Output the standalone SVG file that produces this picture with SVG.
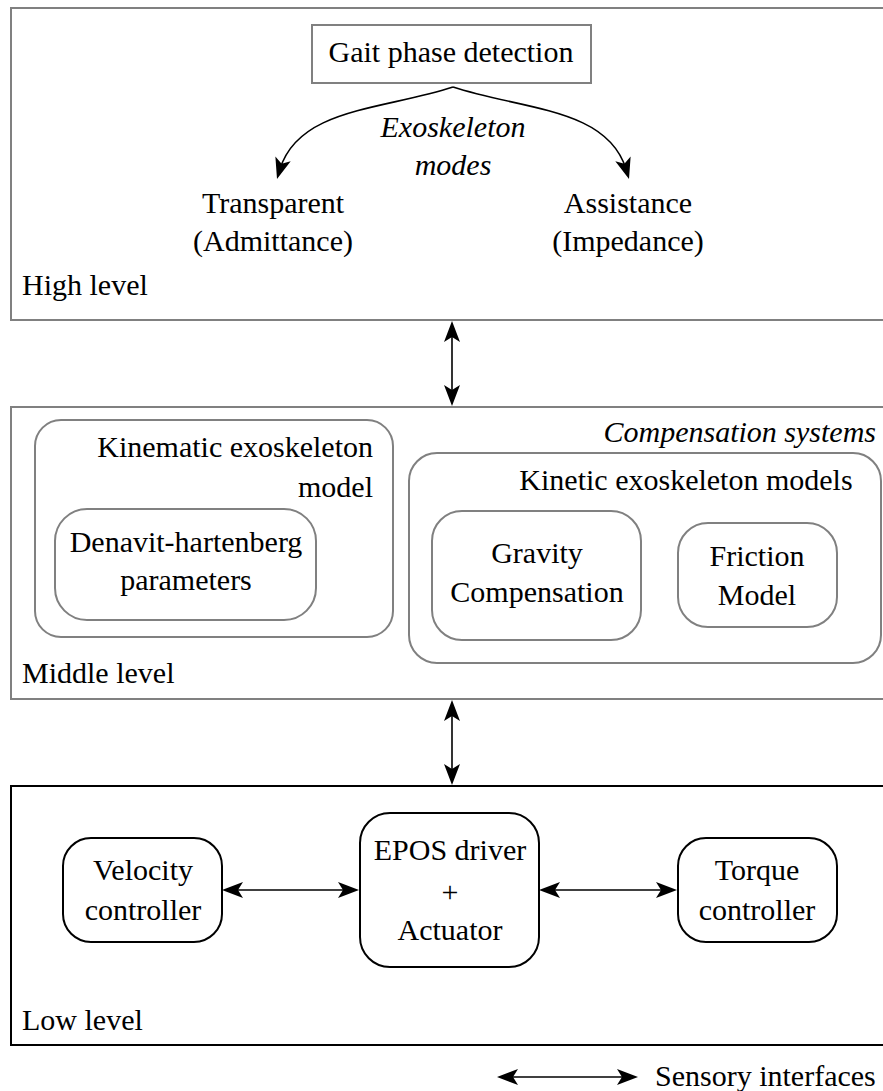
<svg xmlns="http://www.w3.org/2000/svg" xmlns:xlink="http://www.w3.org/1999/xlink" width="883" height="1091" viewBox="0 0 883 1091">
<style>
text{font-family:"Liberation Serif","Times New Roman",serif;font-size:30px;fill:#000}
.c{text-anchor:middle}
.r{text-anchor:end}
.i{font-style:italic}
.g{fill:#fff;stroke:#808080;stroke-width:2}
.k{fill:#fff;stroke:#000;stroke-width:2}
.ln{fill:none;stroke:#000;stroke-width:1.6}
.hd{fill:#000;stroke:none}
</style>
<defs>
<path id="head" d="M0,0 L-21,-8 L-16,0 L-21,8 Z"/>
</defs>
<rect width="883" height="1091" fill="#fff"/>
<g id="high-level">
<rect class="g" x="11" y="8" width="890" height="312"/>
<text x="22" y="295">High level</text>
</g>
<g id="gait">
<rect class="g" x="312" y="25" width="279" height="58"/>
<text class="c" x="451" y="62">Gait phase detection</text>
</g>
<g id="modes-label">
<text class="c i" x="453" y="137">Exoskeleton</text>
<text class="c i" x="453" y="175">modes</text>
</g>
<g id="transparent">
<text class="c" x="273" y="213">Transparent</text>
<text class="c" x="273" y="251">(Admittance)</text>
</g>
<g id="assistance">
<text class="c" x="628" y="213">Assistance</text>
<text class="c" x="628" y="251">(Impedance)</text>
</g>
<g id="middle-level">
<rect class="g" x="11" y="407" width="890" height="292"/>
<text x="22" y="683">Middle level</text>
<text class="r i" x="876" y="442">Compensation systems</text>
</g>
<g id="kinematic">
<rect class="g" x="35" y="420" width="358" height="217" rx="26"/>
<text class="r" x="373" y="457">Kinematic exoskeleton</text>
<text class="r" x="373" y="497">model</text>
</g>
<g id="denavit">
<rect class="g" x="55" y="509" width="261" height="111" rx="32"/>
<text class="c" x="186" y="552">Denavit-hartenberg</text>
<text class="c" x="186" y="590">parameters</text>
</g>
<g id="kinetic">
<rect class="g" x="409" y="453" width="472" height="210" rx="28"/>
<text class="c" x="686" y="490">Kinetic exoskeleton models</text>
</g>
<g id="gravity">
<rect class="g" x="432" y="511" width="209" height="129" rx="30"/>
<text class="c" x="537" y="563">Gravity</text>
<text class="c" x="537" y="602">Compensation</text>
</g>
<g id="friction">
<rect class="g" x="678" y="523" width="159" height="104" rx="30"/>
<text class="c" x="757" y="566">Friction</text>
<text class="c" x="757" y="605">Model</text>
</g>
<g id="low-level">
<rect class="k" x="11" y="786" width="890" height="259"/>
<text x="22" y="1030">Low level</text>
</g>
<g id="velocity">
<rect class="k" x="63" y="838" width="159" height="104" rx="28"/>
<text class="c" x="143" y="880">Velocity</text>
<text class="c" x="143" y="920">controller</text>
</g>
<g id="epos">
<rect class="k" x="360" y="813" width="179" height="154" rx="30"/>
<text class="c" x="450" y="860">EPOS driver</text>
<text class="c" x="450" y="902">+</text>
<text class="c" x="450" y="940">Actuator</text>
</g>
<g id="torque">
<rect class="k" x="678" y="838" width="159" height="104" rx="28"/>
<text class="c" x="757" y="880">Torque</text>
<text class="c" x="757" y="920">controller</text>
</g>
<g id="connectors">
<path class="ln" d="M453,87 C382,110 299,108 280,169"/>
<path class="ln" d="M453,87 C524,110 607,108 626,169"/>
<use class="hd" xlink:href="#head" href="#head" transform="translate(277,179) rotate(106.7)"/>
<use class="hd" xlink:href="#head" href="#head" transform="translate(629,179) rotate(73.3)"/>
<line class="ln" x1="452" y1="332" x2="452" y2="395"/>
<use class="hd" xlink:href="#head" href="#head" transform="translate(452,321) rotate(-90)"/>
<use class="hd" xlink:href="#head" href="#head" transform="translate(452,406) rotate(90)"/>
<line class="ln" x1="452" y1="711" x2="452" y2="774"/>
<use class="hd" xlink:href="#head" href="#head" transform="translate(452,700) rotate(-90)"/>
<use class="hd" xlink:href="#head" href="#head" transform="translate(452,785) rotate(90)"/>
<line class="ln" x1="233" y1="890" x2="348" y2="890"/>
<use class="hd" xlink:href="#head" href="#head" transform="translate(222,890) rotate(180)"/>
<use class="hd" xlink:href="#head" href="#head" transform="translate(359,890)"/>
<line class="ln" x1="550" y1="890" x2="666" y2="890"/>
<use class="hd" xlink:href="#head" href="#head" transform="translate(539,890) rotate(180)"/>
<use class="hd" xlink:href="#head" href="#head" transform="translate(677,890)"/>
</g>
<g id="legend">
<line class="ln" x1="508" y1="1077" x2="627" y2="1077"/>
<use class="hd" xlink:href="#head" href="#head" transform="translate(497,1077) rotate(180)"/>
<use class="hd" xlink:href="#head" href="#head" transform="translate(638,1077)"/>
<text x="655" y="1086">Sensory interfaces</text>
</g>
</svg>
